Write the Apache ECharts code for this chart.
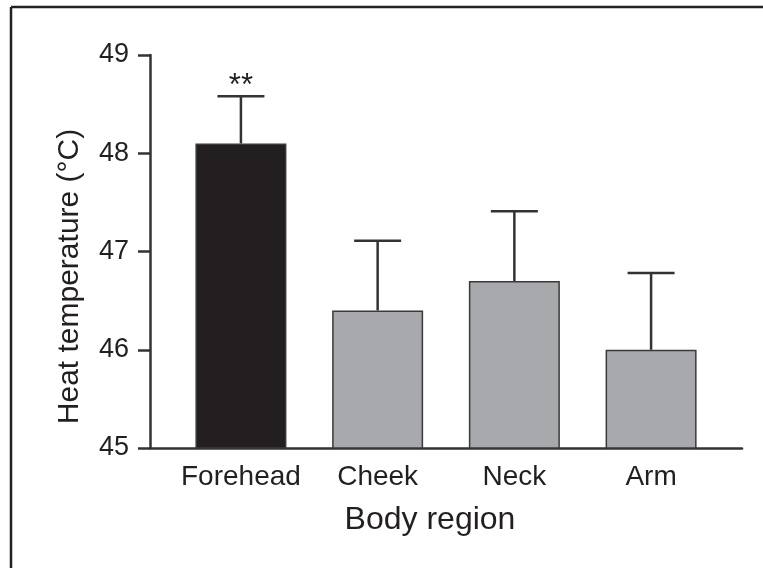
<!DOCTYPE html>
<html>
<head>
<meta charset="utf-8">
<script src="https://cdn.jsdelivr.net/npm/echarts@6/dist/echarts.min.js"></script>
<style>
html,body{margin:0;padding:0;background:#fff;}
#chart{width:763px;height:568px;}
</style>
</head>
<body>
<div id="chart"></div>
<script>
const categories = ['Forehead', 'Cheek', 'Neck', 'Arm'];
const means = [48.1, 46.4, 46.7, 46.0];
const errors = [0.48, 0.71, 0.71, 0.78];
const marks = ['**', '', '', ''];
const barColors = ['#231f20', '#a7a9ac', '#a7a9ac', '#a7a9ac'];
const yTicks = [45, 46, 47, 48, 49];

const FONT = '"Liberation Sans", Arial, Helvetica, sans-serif';
const INK = '#231f20';

const chart = echarts.init(document.getElementById('chart'), null, {renderer: 'canvas'});

const barData = means.map((m, i) => ({
  value: [i, m],
  itemStyle: {color: barColors[i], borderColor: '#3a3a3a', borderWidth: 1.5}
}));
const errData = means.map((m, i) => [i, m, m + errors[i]]);

chart.setOption({
  animation: false,
  backgroundColor: '#fff',
  grid: {left: 150, right: 21, top: 55, bottom: 120, containLabel: false},
  xAxis: {
    type: 'value',
    min: -0.665,
    max: 3.665,
    splitLine: {show: false},
    axisTick: {show: false},
    axisLine: {show: true, onZero: false, lineStyle: {color: '#333', width: 2.5}},
    axisLabel: {
      customValues: [0, 1, 2, 3],
      formatter: v => categories[Math.round(v)],
      fontFamily: FONT, fontSize: 28, color: INK, margin: 15
    },
    name: 'Body region',
    nameLocation: 'middle',
    nameGap: 56,
    nameTextStyle: {fontFamily: FONT, fontSize: 32, color: INK, padding: [0, 32, 0, 0]}
  },
  yAxis: {
    type: 'value',
    min: yTicks[0],
    max: yTicks[yTicks.length - 1],
    interval: 1,
    splitLine: {show: false},
    axisLine: {show: true, onZero: false, lineStyle: {color: '#333', width: 2.5}},
    axisTick: {show: true, inside: false, length: 12, lineStyle: {color: '#333', width: 2.5}},
    axisLabel: {fontFamily: FONT, fontSize: 27, color: INK, margin: 21},
    name: 'Heat temperature (°C)',
    nameLocation: 'middle',
    nameGap: 65,
    nameRotate: 90,
    nameTextStyle: {fontFamily: FONT, fontSize: 30, color: INK, padding: [0, 50, 0, 0]}
  },
  series: [
    {
      type: 'bar',
      data: barData,
      barWidth: 91,
      z: 2
    },
    {
      type: 'custom',
      data: errData,
      z: 3,
      clip: false,
      renderItem: function (params, api) {
        const x = api.value(0);
        const base = api.coord([x, api.value(1)]);
        const top = api.coord([x, api.value(2)]);
        const half = 23.5;
        const children = [
          {type: 'line', shape: {x1: base[0], y1: base[1], x2: top[0], y2: top[1]},
           style: {stroke: '#333', lineWidth: 2.5}},
          {type: 'line', shape: {x1: top[0] - half, y1: top[1], x2: top[0] + half, y2: top[1]},
           style: {stroke: '#333', lineWidth: 2.5}}
        ];
        const mark = marks[params.dataIndex];
        if (mark) {
          children.push({type: 'text', x: top[0], y: top[1] + 6,
            style: {text: mark, fontFamily: FONT, fontSize: 31, fill: INK,
                    align: 'center', verticalAlign: 'bottom'}});
        }
        return {type: 'group', children: children};
      }
    }
  ],
  graphic: [
    {type: 'line', shape: {x1: 11, y1: 7, x2: 11, y2: 600}, style: {stroke: '#222', lineWidth: 2.5}, silent: true},
    {type: 'line', shape: {x1: 11, y1: 7, x2: 800, y2: 7}, style: {stroke: '#222', lineWidth: 2.5}, silent: true}
  ]
});
</script>
</body>
</html>
